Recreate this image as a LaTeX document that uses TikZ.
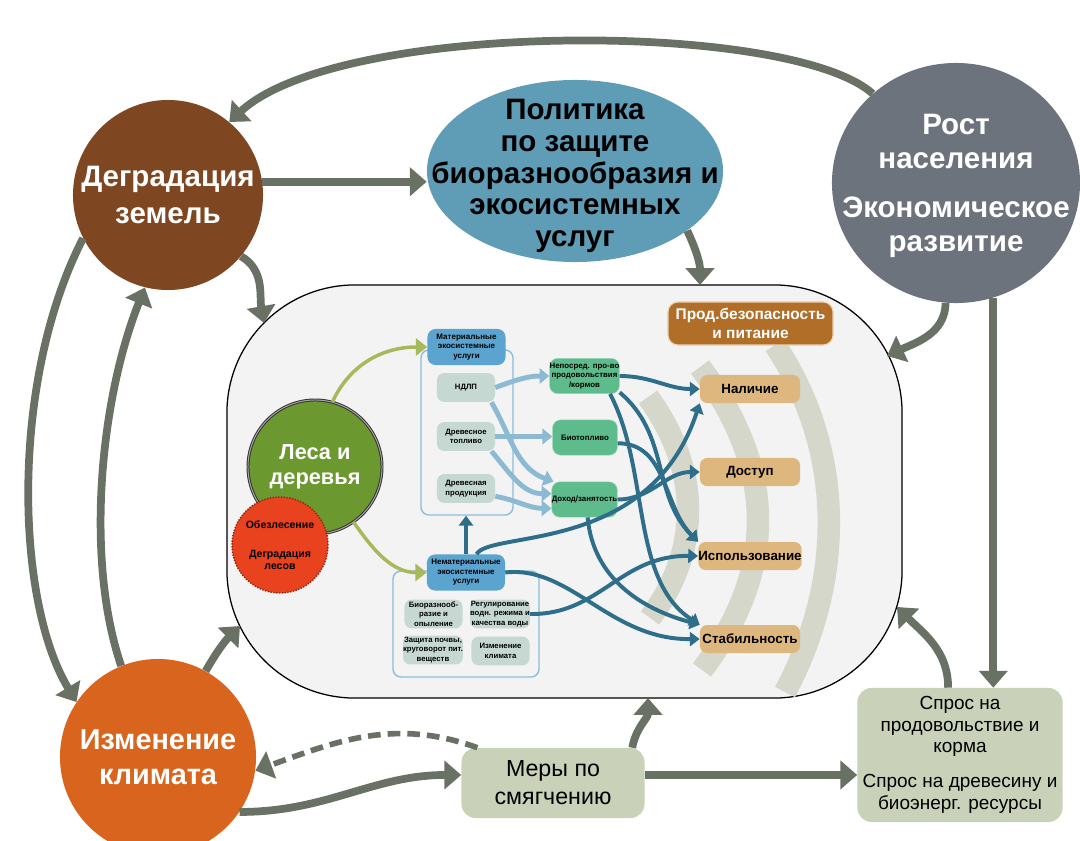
\documentclass[tikz,border=0pt]{standalone}
\usepackage{fontspec}
\setmainfont{Liberation Sans}
\usetikzlibrary{shapes.geometric,arrows.meta}
\definecolor{landbrown}{HTML}{7E4621}
\definecolor{policyblue}{HTML}{5F9DB6}
\definecolor{growthgrey}{HTML}{6D737C}
\definecolor{climorange}{HTML}{D8641D}
\definecolor{sage}{HTML}{C9D1B9}
\definecolor{linkgrey}{HTML}{697064}
\definecolor{sysfill}{HTML}{F3F3F3}
\definecolor{forestgreen}{HTML}{6B9930}
\definecolor{lossred}{HTML}{E8421F}
\definecolor{leafolive}{HTML}{A8B95C}
\definecolor{svcblue}{HTML}{5BA4D0}
\definecolor{frameblue}{HTML}{8CBCD9}
\definecolor{svcgrey}{HTML}{C5D8D2}
\definecolor{outgreen}{HTML}{5EBB8B}
\definecolor{flowblue}{HTML}{8DBAD3}
\definecolor{flowteal}{HTML}{2F6E8B}
\definecolor{fsbrown}{HTML}{B06E29}
\definecolor{pillartan}{HTML}{DDB77D}
\definecolor{bandgrey}{HTML}{D6D7CB}
\begin{document}
\begin{tikzpicture}[x=0.025cm,y=-0.025cm,
    bubble/.style={ellipse,inner sep=0pt,align=center,text=white},
    bubbletext/.style={align=center,font=\bfseries\fontsize{21}{24}\selectfont},
    effectbox/.style={rectangle,rounded corners=0.35cm,fill=sage,align=center},
    svcframe/.style={rectangle,rounded corners=0.2cm,draw=frameblue,line width=1pt},
    svchead/.style={rectangle,rounded corners=0.2cm,fill=svcblue,inner sep=0pt,minimum width=1.95cm,
      minimum height=0.9cm,align=center,font=\bfseries\fontsize{5.7}{6.8}\selectfont},
    svcitem/.style={rectangle,rounded corners=0.18cm,fill=svcgrey,inner sep=0pt,minimum width=1.45cm,
      minimum height=0.72cm,align=center,font=\bfseries\fontsize{5.5}{6.6}\selectfont},
    useitem/.style={rectangle,rounded corners=0.2cm,fill=outgreen,draw=outgreen!60!white,inner sep=0pt,
      minimum width=1.62cm,minimum height=0.88cm,align=center,font=\bfseries\fontsize{5.6}{6.8}\selectfont},
    pillar/.style={rectangle,rounded corners=0.18cm,fill=pillartan,inner sep=0pt,minimum width=2.5cm,
      minimum height=0.7cm,font=\bfseries\fontsize{9.5}{11}\selectfont},
    band/.style={draw=bandgrey,line width=16pt},
    link/.style={draw=linkgrey,line width=5.5pt,-{Triangle[length=12pt,width=20pt]}},
    feed/.style={draw=flowblue,line width=3.5pt,-{Triangle[length=7pt,width=11pt]}},
    effect/.style={draw=flowteal,line width=2.8pt,-{Triangle[length=7pt,width=10pt]}},
    sprout/.style={draw=leafolive,line width=2.5pt,-{Triangle[length=8pt,width=12pt]}}]
      \useasboundingbox (0,0) rectangle (1080,841);
      \node[rectangle,rounded corners=3.2cm,draw=black,line width=0.9pt,fill=sysfill,
        minimum width=16.875cm,minimum height=10.325cm] (fsys) at (564.5,491.5) {};
      \coordinate (fsysP) at (700,285);
      \coordinate (fsysD) at (264,323);
      \coordinate (fsysR) at (887,356);
      \coordinate (fsysS) at (897,607);
      \coordinate (fsysI) at (240,626);
      \coordinate (fsysM) at (648,698);

      \draw[band] (648,397) .. controls (701,470) and (701,550) .. (650,618);
      \draw[band] (700,367) .. controls (777,470) and (777,570) .. (702,670);
      \draw[band] (775,345) .. controls (845,450) and (845,580) .. (785,692);

      \node[rectangle,rounded corners=0.25cm,fill=fsbrown,draw=pillartan!60!white,line width=0.8pt,
        minimum width=4.125cm,minimum height=1.075cm,inner sep=0pt,align=center,text=white,
        font=\bfseries\fontsize{11}{13.5}\selectfont] (fsn) at (750.5,323.5) {Прод.безопасность\\и питание};
      \node[pillar] (avail) at (750,389) {Наличие};
      \node[pillar] (access) at (750,472) {Доступ};
      \node[pillar] (utiliz) at (750,556) {Использование};
      \node[pillar] (stabil) at (750,639) {Стабильность};

      \node[svcframe,minimum width=2.3cm,minimum height=4.125cm] (matframe) at (467,432.5) {};
      \node[svcframe,minimum width=3.65cm,minimum height=2.65cm] (nonframe) at (466,624) {};
      \node[svchead] (mat) at (466.5,347) {Материальные\\экосистемные\\услуги};
      \node[svchead] (nonmat) at (466,572.5) {Нематериальные\\экосистемные\\услуги};
      \node[svcitem] (ntfp) at (466,387.5) {НДЛП};
      \node[svcitem] (fuelwood) at (466,436.5) {Древесное\\топливо};
      \node[svcitem] (woodprod) at (466,488.5) {Древесная\\продукция};
      \node[svcitem] (biodiv) at (433.5,614) {Биоразнооб-\\разие и\\опыление};
      \node[svcitem] (water) at (500,614) {Регулирование\\водн. режима и\\качества воды};
      \node[svcitem] (soil) at (433,650) {Защита почвы,\\круговорот пит.\\веществ};
      \node[svcitem] (climreg) at (500.5,651) {Изменение\\климата};

      \node[useitem] (food) at (584.5,376) {Непосред. про-во\\продовольствия\\/кормов};
      \node[useitem] (biofuel) at (585,437.5) {Биотопливо};
      \node[useitem] (income) at (584.5,499.5) {Доход/занятость};

      \node[circle,minimum size=3.35cm,inner sep=0pt,fill=forestgreen,draw=black!80,double=black!35,
        double distance=0.7pt,line width=0.7pt,text=white,align=center,
        font=\bfseries\fontsize{15.5}{18}\selectfont] (forest) at (315,467) {Леса и\\деревья};
      \node[circle,minimum size=2.4cm,inner sep=0pt,fill=lossred,draw=lossred!60!black,densely dotted,
        line width=1pt,align=center,font=\bfseries\fontsize{7.5}{8.5}\selectfont] (loss) at (280,545)
        {Обезлесение\\[12pt]Деградация\\лесов};

      \begin{scope}[sprout]
        \draw (forest.75) to[out=65,in=180] (mat.west);
        \draw (forest.-55) to[out=-55,in=180] (nonmat.west);
      \end{scope}
      \begin{scope}[feed]
        \draw (ntfp.east) to[out=20,in=180] (food.west);
        \draw (ntfp.-30) to[out=-60,in=160] (income.150);
        \draw (fuelwood.east) -- (fuelwood.east -| biofuel.west);
        \draw (fuelwood.-30) to[out=-50,in=180] (income.170);
        \draw (woodprod.-15) to[out=-10,in=180] (income.-165);
      \end{scope}
      \begin{scope}[effect]
        \draw (nonmat.north) -- (nonmat.north |- matframe.south);
        \draw (food.east) to[out=0,in=180] (avail.west);
        \draw (food.-25) to[out=-40,in=135] (utiliz.north west);
        \draw (food.-35) .. controls (650,470) and (630,580) .. (stabil.north west);
        \draw (biofuel.-10) to[out=0,in=135] (utiliz.north west);
        \draw (income.east) to[out=0,in=180] (access.west);
        \draw (income.-80) to[out=-85,in=165] (stabil.north west);
        \draw (nonmat.60) .. controls (490,530) and (650,555) .. (avail.south west);
        \draw (nonmat.east) .. controls (570,565) and (610,640) .. (stabil.west);
        \draw (water.east) .. controls (600,615) and (620,555) .. (utiliz.west);
      \end{scope}

      \node[bubble,circle,minimum size=4.75cm,fill=landbrown,font=\bfseries\fontsize{21}{26}\selectfont]
        (degr) at (168,195) {Деградация\\земель};
      \node[bubble,minimum width=7.4cm,minimum height=4.55cm,fill=policyblue] (polit) at (575,171) {};
      \node[bubbletext,font=\bfseries\fontsize{21}{22.5}\selectfont] (polittext) at (575,176)
        {Политика\\по защите\\биоразнообразия и\\экосистемных\\услуг};
      \node[bubble,minimum width=6.2cm,minimum height=6cm,fill=growthgrey] (rost) at (956,183) {};
      \node[bubbletext,text=white] (rosttext) at (956,186) {Рост\\населения\\[11pt]Экономическое\\развитие};
      \node[bubble,circle,minimum size=4.9cm,fill=climorange,font=\bfseries\fontsize{20.5}{25}\selectfont]
        (izm) at (158,757) {Изменение\\климата};
      \node[effectbox,minimum width=4.575cm,minimum height=1.75cm,font=\fontsize{16.5}{20}\selectfont]
        (mery) at (553,783) {Меры по\\смягчению};
      \node[effectbox,minimum width=5.125cm,minimum height=3.35cm,font=\fontsize{13.5}{15.3}\selectfont]
        (spros) at (960,755) {Спрос на\\продовольствие и\\корма\\[9.5pt]Спрос на древесину и\\биоэнерг. ресурсы};

      \begin{scope}[link]
        \draw (rost.133) .. controls (790,20) and (340,20) .. (degr.50);
        \draw (degr.8) -- (degr.8 -| polit.west);
        \draw (polit.-28) to[out=-65,in=90] (fsysP);
        \draw (degr.-40) to[out=-30,in=100] (fsysD);
        \draw (rost.265) to[out=-90,in=25] (fsysR);
        \draw (rost.-72) -- (rost.-72 |- spros.north);
        \draw (spros.100) to[out=90,in=-45] (fsysS);
        \draw (degr.207) .. controls (10,380) and (15,600) .. (izm.146);
        \draw (izm.112) .. controls (85,560) and (100,400) .. (degr.256);
        \draw (izm.61) to[out=60,in=-135] (fsysI);
        \draw (izm.-34) to[out=0,in=180] (mery.175);
        \draw[line width=4pt,dash pattern=on 9pt off 5pt] (mery.155) to[out=160,in=20] (izm.-8);
        \draw (mery.24) to[out=80,in=-90] (fsysM);
        \draw (mery.5) -- (mery.5 -| spros.west);
      \end{scope}
    \end{tikzpicture}
\end{document}
